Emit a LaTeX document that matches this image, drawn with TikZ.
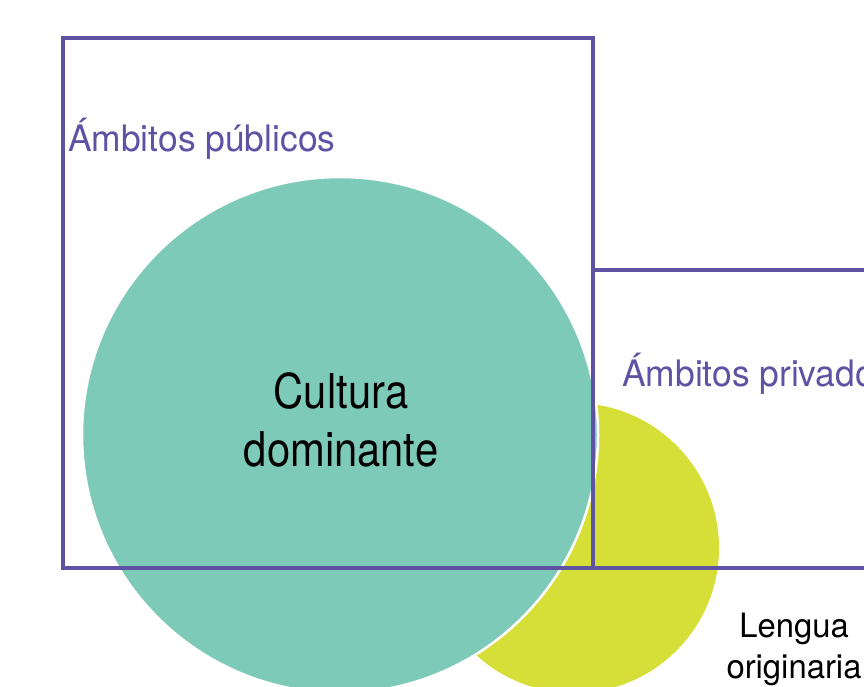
\documentclass[tikz,border=0pt]{standalone}
\usepackage{fontspec}
\setmainfont{TeX Gyre Heros}
\newfontfamily\ambitofont[FakeStretch=0.97]{TeX Gyre Heros}
\newfontfamily\culturafont[FakeStretch=0.87]{TeX Gyre Heros}
\newfontfamily\lenguafont[FakeStretch=0.98]{TeX Gyre Heros}
\usepackage{tikz}
\definecolor{ambito}{HTML}{5E52A3}
\definecolor{cultura}{HTML}{7DCAB9}
\definecolor{lengua}{HTML}{D6DE38}

\begin{document}
\begin{tikzpicture}[x=1pt, y=-1pt, every node/.style={inner sep=0pt}, zone/.style={draw=ambito, line width=3.5pt}, blob/.style={circle, inner sep=0pt, minimum size=#1}, ambtext/.style={anchor=base west, text=ambito, font=\ambitofont\fontsize{36.5}{44}\selectfont}]
\clip (0,0) rectangle (864,687);
% circles first, frames on top
\node[blob=290, fill=lengua] (lengua) at (574,548) {};
\node[blob=516, fill=cultura, draw=white, line width=2.5pt] (cultura) at (340,435) {};
\node[zone, minimum width=530, minimum height=530] (publico) at (328,303) {};
\node[zone, minimum width=320, minimum height=298] (privado) at (753,419) {};
\node[ambtext] (tpublico) at (68,152) {Ámbitos públicos};
\node[ambtext] (tprivado) at (622,386) {Ámbitos privados};
\node[anchor=north, align=center, font=\culturafont\fontsize{48}{58}\selectfont] (tcultura) at (341,372) {Cultura\\dominante};
\node[anchor=north, align=center, font=\lenguafont\fontsize{33.5}{41}\selectfont] (tlengua) at (794,613) {Lengua\\originaria};
\end{tikzpicture}
\end{document}
